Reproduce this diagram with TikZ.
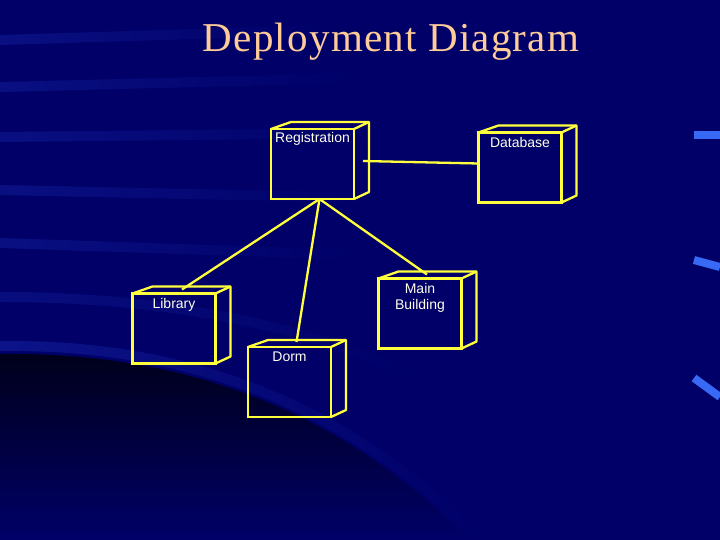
\documentclass[tikz,border=0pt]{standalone}
\usepackage{fontspec}
\setmainfont{Liberation Serif}
\setsansfont{Liberation Sans}
\usetikzlibrary{positioning, fadings}

\definecolor{slidenavy}{RGB}{0,0,104}
\definecolor{slidedark}{RGB}{0,0,26}
\definecolor{streakblue}{RGB}{25,40,170}
\definecolor{edgeblue}{RGB}{55,105,245}
\definecolor{titlepeach}{RGB}{255,204,153}
\definecolor{nodeyellow}{RGB}{255,255,60}

\begin{document}
\begin{tikzpicture}[
    x=1pt, y=-1pt,
    font=\sffamily,
    devicebox/.style={rectangle, draw=nodeyellow, line width=2.3pt, minimum width=83pt, minimum height=70pt, inner sep=0pt, outer sep=0pt},
    boxlabel/.style={font=\fontsize{14}{16}\selectfont\sffamily, text=white!92!yellow, align=center, inner sep=4.5pt},
    link/.style={draw=nodeyellow, line width=2.3pt, line join=round},
    streak/.style={draw=streakblue, line width=10pt, opacity=0.4, path fading=east},
    glow/.style={draw=streakblue, line width=10pt, opacity=0.5}
]

% Background
\useasboundingbox (0,0) rectangle (720,540);
\clip (0,0) rectangle (720,540);
\fill[slidenavy] (0,0) rectangle (720,540);
\foreach \ya/\yb/\xe in {40/30/330, 87/78/360, 137/133/380, 190/198/380, 243/255/360} {
    \draw[streak] (0,\ya) -- (\xe,\yb);
}
\shade[top color=slidedark, bottom color=slidenavy] (0,354) .. controls (170,352) and (330,400) .. (470,540) -- (0,540) -- cycle;
\draw[glow, path fading=east] (0,346) .. controls (170,344) and (335,392) .. (480,540);
\draw[streak, opacity=0.35] (0,297) .. controls (150,297) and (300,320) .. (420,380);

% Right edge marks
\draw[edgeblue, line width=8pt] (694,135) -- (720,135);
\draw[edgeblue, line width=8pt] (694,260) -- (720,267);
\draw[edgeblue, line width=8pt] (694,378) -- (720,397);

% Title
\node[font=\fontsize{41}{48}\selectfont\rmfamily\addfontfeature{LetterSpace=3}, text=titlepeach, anchor=base] (title) at (391,52) {Deployment Diagram};

% Nodes
\node[devicebox] (reg) at (312.5,164) {};
\node[devicebox] (db) at (520,167.5) {};
\node[devicebox] (lib) at (174,328.5) {};
\node[devicebox] (dorm) at (289.5,382) {};
\node[devicebox] (main) at (420,313.5) {};

\foreach \n in {reg, db, lib, dorm, main} {
    \draw[link] (\n.north west) -- ++(20,-7) -- ([shift={(15,-7)}]\n.north east) -- ([shift={(15,-7)}]\n.south east) -- (\n.south east);
    \draw[link] (\n.north east) -- ++(15,-7);
}

\node[boxlabel, below=0pt of reg.north, inner sep=3.5pt] (regname) {Registration};
\node[boxlabel, below=0pt of db.north] (dbname) {Database};
\node[boxlabel, below=0pt of lib.north] (libname) {Library};
\node[boxlabel, below=0pt of dorm.north] (dormname) {Dorm};
\node[boxlabel, below=0pt of main.north] (mainname) {Main\\Building};

% Links
\draw[link] ([xshift=7pt]reg.south) -- ([shift={(8,-4)}]lib.north);
\draw[link] ([xshift=7pt]reg.south) -- ([shift={(7,-5)}]dorm.north);
\draw[link] ([xshift=7pt]reg.south) -- ([shift={(7,-4)}]main.north);
\draw[link] ([shift={(9,-3)}]reg.east) -- ([yshift=4pt]db.west);

\end{tikzpicture}
\end{document}
